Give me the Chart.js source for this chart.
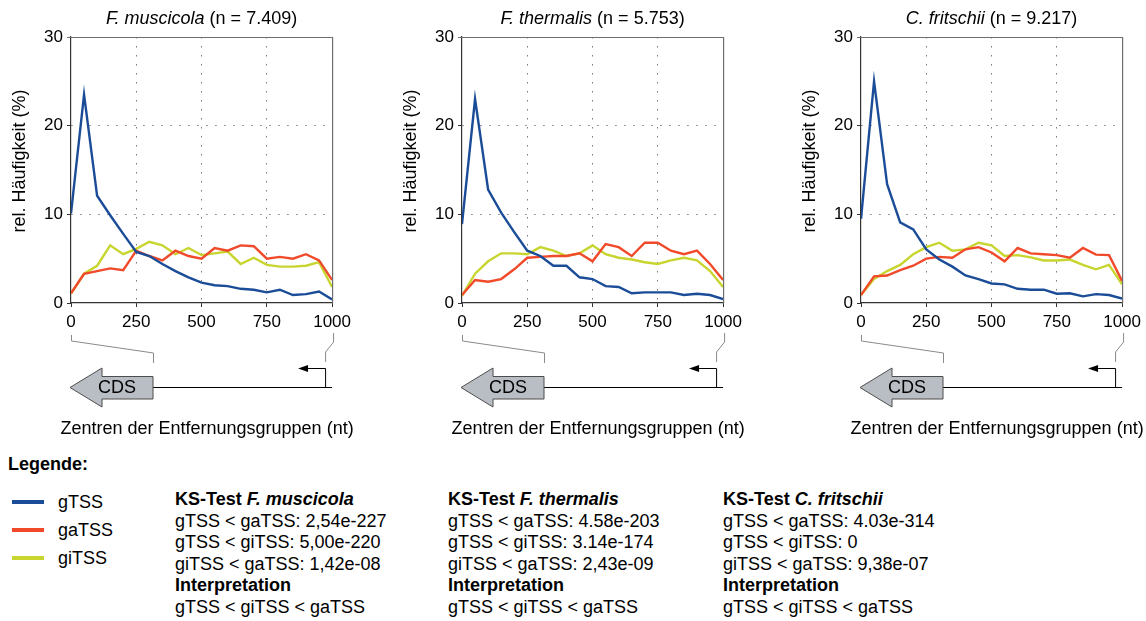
<!DOCTYPE html>
<html>
<head>
<meta charset="utf-8">
<script src="https://cdn.jsdelivr.net/npm/chart.js@4/dist/chart.umd.min.js"></script>
<style>
html,body{margin:0;padding:0;background:#fff;}
#wrap{position:relative;width:1146px;height:621px;overflow:hidden;font-family:'Liberation Sans',Arial,sans-serif;color:#000;}
canvas.cv{position:absolute;top:0;}
.t{position:absolute;font-size:18px;line-height:21.5px;white-space:nowrap;}
.b{font-weight:bold;}
.i{font-style:italic;}
.lg{position:absolute;height:4px;width:32px;left:12px;}
</style>
</head>
<body>
<div id="wrap">
  <canvas class="cv" id="c0" width="356" height="440" style="left:0px"></canvas>
  <canvas class="cv" id="c1" width="356" height="440" style="left:391px"></canvas>
  <canvas class="cv" id="c2" width="356" height="440" style="left:790px"></canvas>
</div>
<script>
// ---------- data ----------
const distanceCenters = [0, 50, 100, 150, 200, 250, 300, 350, 400, 450, 500, 550, 600, 650, 700, 750, 800, 850, 900, 950, 1000];
const xTickValues = [0, 250, 500, 750, 1000];
const yTickValues = [0, 10, 20, 30];

const seriesNames = ['gTSS', 'gaTSS', 'giTSS'];
const seriesColors = ['#1b4c98', '#f04a2b', '#c8d52f'];

const organismNames = ['F. muscicola', 'F. thermalis', 'C. fritschii'];
const organismCounts = ['7.409', '5.753', '9.217'];

const xAxisTitle = 'Zentren der Entfernungsgruppen (nt)';
const yAxisTitle = 'rel. Häufigkeit (%)';

// F. muscicola
const fmGTSS  = [10.1, 23.5, 12.1, 9.9, 7.8, 5.75, 5.3, 4.4, 3.6, 2.9, 2.3, 2.0, 1.9, 1.6, 1.5, 1.2, 1.5, 0.9, 1.0, 1.3, 0.4];
const fmGaTSS = [1.1, 3.3, 3.6, 3.9, 3.7, 5.9, 5.3, 4.8, 5.9, 5.3, 5.0, 6.2, 5.9, 6.5, 6.4, 5.0, 5.2, 5.0, 5.5, 4.8, 2.6];
const fmGiTSS = [1.05, 3.3, 4.2, 6.5, 5.5, 6.1, 6.9, 6.5, 5.5, 6.2, 5.4, 5.6, 5.8, 4.4, 5.1, 4.3, 4.1, 4.1, 4.2, 4.6, 1.8];
// F. thermalis
const ftGTSS  = [8.9, 23.0, 12.8, 10.2, 8.0, 5.9, 5.3, 4.2, 4.2, 2.9, 2.7, 1.9, 1.8, 1.1, 1.2, 1.2, 1.2, 0.9, 1.05, 0.9, 0.45];
const ftGaTSS = [0.9, 2.6, 2.4, 2.7, 3.8, 5.1, 5.2, 5.3, 5.3, 5.6, 4.7, 6.65, 6.3, 5.3, 6.8, 6.8, 5.9, 5.5, 5.9, 4.4, 2.6];
const ftGiTSS = [0.8, 3.3, 4.7, 5.6, 5.6, 5.5, 6.3, 5.9, 5.3, 5.6, 6.5, 5.5, 5.1, 4.9, 4.6, 4.4, 4.8, 5.1, 4.8, 3.6, 1.8];
// C. fritschii
const cfGTSS  = [9.5, 25.0, 13.4, 9.1, 8.3, 6.05, 4.9, 4.1, 3.1, 2.7, 2.2, 2.1, 1.6, 1.5, 1.5, 1.05, 1.1, 0.75, 1.0, 0.9, 0.5];
const cfGaTSS = [0.9, 3.0, 3.1, 3.7, 4.2, 5.0, 5.2, 5.1, 6.05, 6.3, 5.7, 4.7, 6.2, 5.6, 5.5, 5.4, 5.1, 6.2, 5.45, 5.4, 2.5];
const cfGiTSS = [0.9, 2.7, 3.6, 4.3, 5.5, 6.3, 6.8, 5.9, 6.05, 6.8, 6.5, 5.3, 5.4, 5.15, 4.8, 4.8, 4.9, 4.3, 3.8, 4.3, 2.1];

// KS-test texts
const ksFm = ['gTSS < gaTSS: 2,54e-227', 'gTSS < giTSS: 5,00e-220', 'giTSS < gaTSS: 1,42e-08'];
const ksFt = ['gTSS < gaTSS: 4.58e-203', 'gTSS < giTSS: 3.14e-174', 'giTSS < gaTSS: 2,43e-09'];
const ksCf = ['gTSS < gaTSS: 4.03e-314', 'gTSS < giTSS: 0', 'giTSS < gaTSS: 9,38e-07'];
const interpretations = ['gTSS < giTSS < gaTSS', 'gTSS < giTSS < gaTSS', 'gTSS < giTSS < gaTSS'];

// ---------- chart setup ----------
const FONT = "'Liberation Sans', Arial, sans-serif";
Chart.defaults.font.family = FONT;
Chart.defaults.color = '#000';

const decorPlugin = {
  id: 'decor',
  afterDraw(chart, args, opts) {
    const ctx = chart.ctx;
    const a = chart.chartArea;
    const xs = chart.scales.x;
    const L = xs.getPixelForValue(xTickValues[0]);
    const R = xs.getPixelForValue(xTickValues[xTickValues.length - 1]);
    ctx.save();
    // frame (top + right)
    ctx.strokeStyle = '#6e6e6e';
    ctx.lineWidth = 1.2;
    ctx.beginPath();
    ctx.moveTo(a.left - 4, a.top + 0.5);
    ctx.lineTo(a.right + 0.5, a.top + 0.5);
    ctx.lineTo(a.right + 0.5, a.bottom);
    ctx.stroke();

    ctx.fillStyle = '#000';
    ctx.textBaseline = 'middle';

    // chart title (italic organism + count)
    const t1 = opts.name, t2 = ' (n = ' + opts.count + ')';
    ctx.font = 'italic 18px ' + FONT;
    const w1 = ctx.measureText(t1).width;
    ctx.font = '18px ' + FONT;
    const w2 = ctx.measureText(t2).width;
    const cx = (a.left + a.right) / 2;
    const x0 = cx - (w1 + w2) / 2;
    ctx.textAlign = 'left';
    ctx.font = 'italic 18px ' + FONT;
    ctx.fillText(t1, x0, 19);
    ctx.font = '18px ' + FONT;
    ctx.fillText(t2, x0 + w1, 19);

    // x axis title
    ctx.font = '18px ' + FONT;
    const wx = ctx.measureText(xAxisTitle).width;
    const xc = Math.min(cx + 5.5, chart.width - wx / 2 - 1);
    ctx.textAlign = 'center';
    ctx.fillText(xAxisTitle, xc, 429);

    // y axis title
    ctx.save();
    ctx.translate(20, 161);
    ctx.rotate(-Math.PI / 2);
    ctx.font = '18px ' + FONT;
    ctx.textAlign = 'center';
    ctx.fillText(yAxisTitle, 0, 0);
    ctx.restore();

    // gene diagram
    const boxR = L + 82;
    ctx.strokeStyle = '#8a8a8a';
    ctx.lineWidth = 1;
    ctx.beginPath();
    ctx.moveTo(L + 0.5, 335); ctx.lineTo(L + 0.5, 341); ctx.lineTo(boxR + 0.5, 353); ctx.lineTo(boxR + 0.5, 363);
    ctx.moveTo(R + 1.5, 333); ctx.lineTo(R + 1.5, 342); ctx.lineTo(R - 6.5, 352); ctx.lineTo(R - 6.5, 362);
    ctx.stroke();

    // main line
    ctx.strokeStyle = '#000';
    ctx.beginPath();
    ctx.moveTo(boxR, 387.5); ctx.lineTo(R, 387.5);
    // TSS arrow
    ctx.moveTo(R - 6.5, 387.5); ctx.lineTo(R - 6.5, 368.5); ctx.lineTo(R - 24, 368.5);
    ctx.stroke();
    ctx.fillStyle = '#000';
    ctx.beginPath();
    ctx.moveTo(R - 34, 368.5); ctx.lineTo(R - 24, 365); ctx.lineTo(R - 24, 372); ctx.closePath();
    ctx.fill();

    // CDS block arrow
    ctx.fillStyle = '#b9bec4';
    ctx.strokeStyle = '#4d4d4d';
    ctx.lineWidth = 1;
    ctx.beginPath();
    ctx.moveTo(L - 1, 387.5);
    ctx.lineTo(L + 31, 368);
    ctx.lineTo(L + 31, 376.5);
    ctx.lineTo(boxR, 376.5);
    ctx.lineTo(boxR, 399);
    ctx.lineTo(L + 31, 399);
    ctx.lineTo(L + 31, 407);
    ctx.closePath();
    ctx.fill();
    ctx.stroke();
    ctx.fillStyle = '#000';
    ctx.textAlign = 'center';
    ctx.font = '18px ' + FONT;
    ctx.fillText('CDS', L + 46, 388);
    ctx.restore();
  }
};

function gridColor(c, lo, hi) {
  if (!c.tick) return 'rgba(0,0,0,0)';
  return (c.tick.value === lo || c.tick.value === hi) ? 'rgba(0,0,0,0)' : '#7a7a7a';
}

function makeChart(id, idx, series) {
  return new Chart(document.getElementById(id), {
    type: 'line',
    data: {
      datasets: seriesNames.map((name, s) => ({
        label: name,
        data: distanceCenters.map((x, i) => ({ x: x, y: series[s][i] })),
        borderColor: seriesColors[s],
        backgroundColor: seriesColors[s],
        borderWidth: 2.4,
        pointRadius: 0,
        tension: 0,
        fill: false
      }))
    },
    options: {
      responsive: false,
      animation: false,
      events: [],
      layout: { padding: { left: 12, top: 37, right: 20, bottom: 0 } },
      plugins: {
        legend: { display: false },
        tooltip: { enabled: false },
        title: { display: false },
        decor: { name: organismNames[idx], count: organismCounts[idx] }
      },
      scales: {
        x: {
          type: 'linear',
          min: xTickValues[0],
          max: xTickValues[xTickValues.length - 1],
          afterBuildTicks: s => { s.ticks = xTickValues.map(v => ({ value: v })); },
          afterFit: s => { s.height = 137; },
          ticks: { font: { size: 17 }, color: '#000', padding: 5, maxRotation: 0, autoSkip: false,
                   callback: v => String(v) },
          grid: {
            color: c => gridColor(c, xTickValues[0], xTickValues[xTickValues.length - 1]),
            lineWidth: 1, tickLength: 4, tickColor: '#333', tickWidth: 1
          },
          border: { color: '#333', width: 1.2, dash: [1.5, 7.5] },
          title: { display: false }
        },
        y: {
          min: yTickValues[0],
          max: yTickValues[yTickValues.length - 1],
          afterBuildTicks: s => { s.ticks = yTickValues.map(v => ({ value: v })); },
          afterFit: s => { s.width = 59; },
          ticks: { font: { size: 17 }, color: '#000', padding: 4, callback: v => String(v) },
          grid: {
            color: c => gridColor(c, yTickValues[0], yTickValues[yTickValues.length - 1]),
            lineWidth: 1, tickLength: 4, tickColor: '#333', tickWidth: 1
          },
          border: { color: '#333', width: 1.2, dash: [1.5, 7.5] },
          title: { display: false }
        }
      }
    },
    plugins: [decorPlugin]
  });
}

makeChart('c0', 0, [fmGTSS, fmGaTSS, fmGiTSS]);
makeChart('c1', 1, [ftGTSS, ftGaTSS, ftGiTSS]);
makeChart('c2', 2, [cfGTSS, cfGaTSS, cfGiTSS]);

// ---------- legend + KS text ----------
(function () {
  const wrap = document.getElementById('wrap');
  function add(html, cls, left, top, extraStyle) {
    const d = document.createElement('div');
    d.className = cls;
    d.style.left = left + 'px';
    d.style.top = top + 'px';
    if (extraStyle) Object.assign(d.style, extraStyle);
    d.innerHTML = html;
    wrap.appendChild(d);
    return d;
  }
  add('Legende:', 't b', 8, 454);
  const legendY = [502, 530, 558];
  seriesNames.forEach((n, i) => {
    add('', 'lg', 12, legendY[i] - 2, { background: seriesColors[i] });
    add(n, 't', 58, legendY[i] - 10);
  });
  const ksCols = [ksFm, ksFt, ksCf];
  const colX = [175, 448, 723];
  ksCols.forEach((lines, k) => {
    let html = '<span class="b">KS-Test </span><span class="b i">' + organismNames[k] + '</span><br>';
    html += lines.join('<br>') + '<br>';
    html += '<span class="b">Interpretation</span><br>' + interpretations[k];
    add(html, 't', colX[k], 489);
  });
})();
</script>
</body>
</html>
